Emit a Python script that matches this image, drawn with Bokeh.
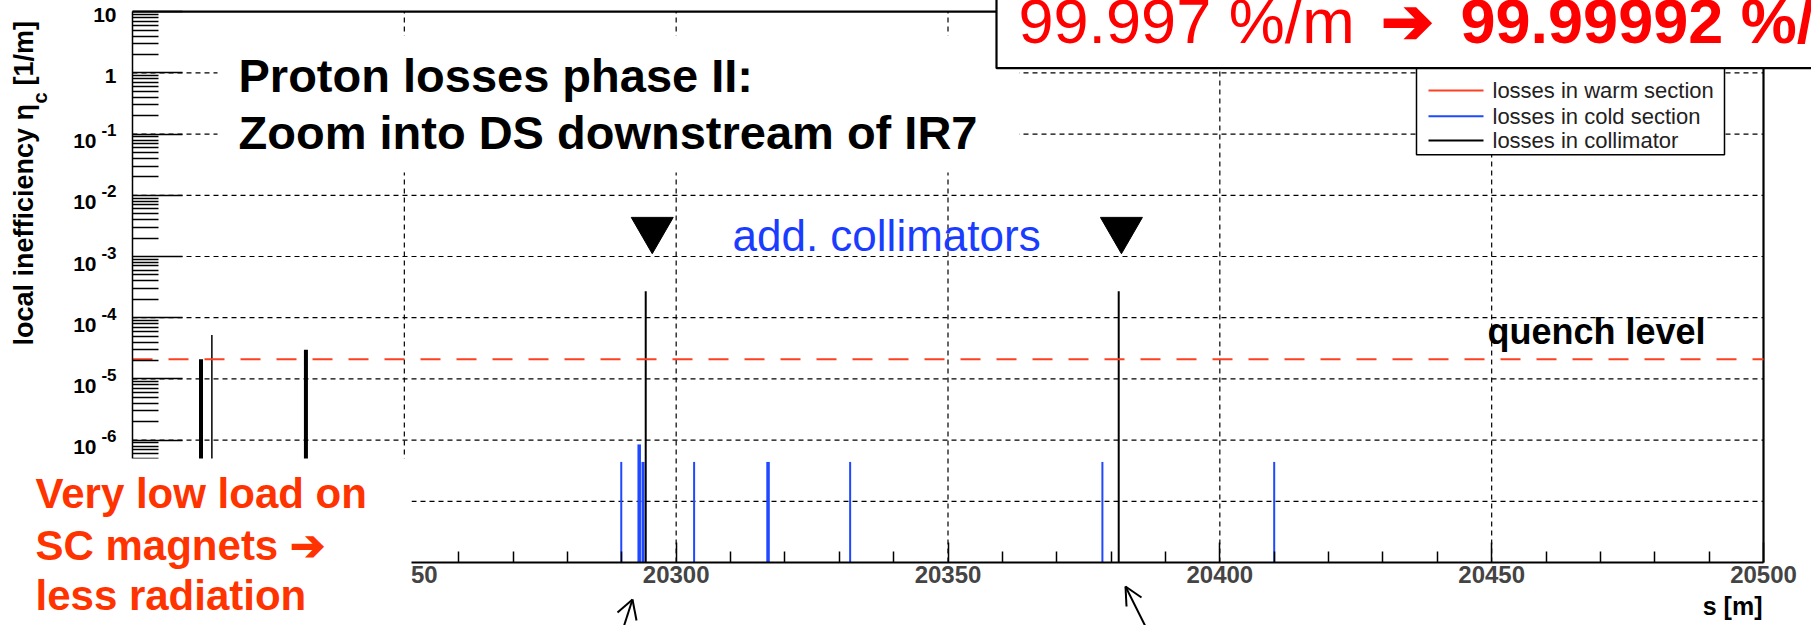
import math
from bokeh.plotting import figure
from bokeh.models import Range1d, FixedTicker
from bokeh.core.properties import value
from bokeh.embed import file_html
from bokeh.resources import INLINE

# ---------------- data ----------------
cold_s = [20289.9, 20293.2, 20293.9, 20303.3, 20316.9, 20332.0, 20378.4, 20410.0]
cold_eta = [4.4e-7, 8.5e-7, 4.4e-7, 4.4e-7, 4.4e-7, 4.4e-7, 4.4e-7, 4.4e-7]
coll_s = [20212.6, 20214.6, 20231.9, 20294.4, 20381.4]
coll_eta = [2.1e-5, 5.2e-5, 3.0e-5, 2.7e-4, 2.7e-4]
warm_s = []
warm_eta = []
quench_level = 2.1e-5
added_coll_s = [20295.6, 20381.9]

x_major = [20200, 20250, 20300, 20350, 20400, 20450, 20500]
x_minor = [v for v in range(20210, 20500, 10) if v % 50 != 0]
y_exp = [-8, -7, -6, -5, -4, -3, -2, -1, 0, 1]
y_major = [10.0 ** e for e in y_exp]
y_minor = [k * 10.0 ** e for e in y_exp[:-1] for k in range(2, 10)]
x_grid = x_major[1:-1]
y_grid = y_major[1:-1]

legend_labels = ["losses in warm section", "losses in cold section", "losses in collimator"]

# ---------------- styles ----------------
COLD = "#1f48ff"
WARM = "#ff4020"
COLL = "black"
legend_colors = [WARM, COLD, COLL]
cold_lw = [2, 3.5, 3, 2, 3.5, 2, 2, 2]
coll_lw = [4, 1.5, 4, 2, 2]
FONT = "Liberation Sans"
MID = 0.3465   # distance baseline -> middle of the text box, in em

# ---------------- layout (pixel geometry of the page) ----------------
W, H = 1811, 625
X0_PX, X1_PX = 132.0, 1763.0      # s = 20200 / 20500
YB_PX, DEC_PX = 562.0, 61.2       # eta = 1e-8, pixels per decade
S0, S1 = 20200.0, 20500.0


def sx(px):
    return S0 + (px - X0_PX) * (S1 - S0) / (X1_PX - X0_PX)


def sy(py):
    return 10 ** (-8 - (py - YB_PX) / DEC_PX)


p = figure(width=W, height=H, output_backend="svg", toolbar_location=None,
           y_axis_type="log",
           x_range=Range1d(sx(0), sx(W)),
           y_range=Range1d(sy(H), sy(0)))
p.min_border = 0
p.outline_line_color = None
p.background_fill_color = "white"
p.border_fill_color = "white"
p.grid.visible = False

# axes, placed at the plot-area edges
xa = p.xaxis[0]
xa.fixed_location = 1e-8
xa.bounds = (S0, S1)
xa.ticker = FixedTicker(ticks=x_major, minor_ticks=x_minor)
xa.axis_line_width = 2
xa.major_tick_in, xa.major_tick_out = 20, 0
xa.minor_tick_in, xa.minor_tick_out = 11, 0
xa.major_tick_line_width = 1.5
xa.minor_tick_line_width = 1.5
xa.major_label_text_font = FONT
xa.major_label_text_font_style = "bold"
xa.major_label_text_font_size = "24px"
xa.major_label_standoff = 3

ya = p.yaxis[0]
ya.fixed_location = S0
ya.bounds = (1e-8, 10)
ya.ticker = FixedTicker(ticks=y_major, minor_ticks=y_minor)
ya.axis_line_width = 1.5
ya.major_tick_in, ya.major_tick_out = 50, 0
ya.minor_tick_in, ya.minor_tick_out = 26, 0
ya.major_tick_line_width = 1.5
ya.minor_tick_line_width = 1.5
ya.major_label_overrides = {v: "" for v in y_major}

# grid lines (ROOT style dashed)
p.segment(x0=[S0] * len(y_grid), x1=[S1] * len(y_grid), y0=y_grid, y1=y_grid,
          line_color="black", line_width=1.2, line_dash="5 4", level="underlay")
p.segment(x0=x_grid, x1=x_grid, y0=[1e-8] * len(x_grid), y1=[10] * len(x_grid),
          line_color="black", line_width=1.2, line_dash="5 4", level="underlay")
# frame top / right
p.segment(x0=[S0, S1], x1=[S1, S1], y0=[10, 1e-8], y1=[10, 10],
          line_color="black", line_width=2.2, level="underlay")

# data
p.segment(x0=warm_s, x1=warm_s, y0=[1e-8] * len(warm_s), y1=warm_eta,
          line_color=WARM, line_width=2)
p.segment(x0=cold_s, x1=cold_s, y0=[1e-8] * len(cold_s), y1=cold_eta,
          line_color=COLD, line_width=cold_lw)
p.segment(x0=coll_s, x1=coll_s, y0=[1e-8] * len(coll_s), y1=coll_eta,
          line_color=COLL, line_width=coll_lw)

# quench level
p.segment(x0=[S0], x1=[S1], y0=[quench_level], y1=[quench_level],
          line_color=WARM, line_width=2, line_dash="20 16")


def T(px, base, txt, size, color="black", bold=False, align="left",
      rotated=False, level="overlay"):
    """Text whose alphabetic baseline lies at pixel row `base` (or column if rotated)."""
    if rotated:
        x, y, ang = sx(base - MID * size), sy(px), math.pi / 2
    else:
        x, y, ang = sx(px), sy(base - MID * size), 0.0
    p.text(x=[x], y=[y], text=[txt], text_font=value(FONT),
           text_font_size=f"{size}px", text_font_style="bold" if bold else "normal",
           text_color=color, text_align=align, text_baseline="middle",
           angle=ang, level=level)


# y tick labels 10^n (ROOT style)
neg = [e for e in y_exp if e < 0]
p.text(x=[S0] * len(neg), y=[10.0 ** e for e in neg], text=["10"] * len(neg),
       x_offset=-36, y_offset=7, text_align="right", text_baseline="middle",
       text_font=value(FONT), text_font_size="21px", text_font_style="bold",
       level="guide")
p.text(x=[S0] * len(neg), y=[10.0 ** e for e in neg], text=[str(e) for e in neg],
       x_offset=-16, y_offset=-4, text_align="right", text_baseline="middle",
       text_font=value(FONT), text_font_size="17px", text_font_style="bold",
       level="guide")
p.text(x=[S0, S0], y=[1.0, 10.0], text=["1", "10"],
       x_offset=-16, y_offset=3, text_align="right", text_baseline="middle",
       text_font=value(FONT), text_font_size="21px", text_font_style="bold",
       level="guide")

# axis titles (rotated y title: px = start row, base = baseline column)
T(345, 33, "local inefficiency \u03b7", 27, bold=True, rotated=True, level="guide")
T(103, 46, "c", 20, bold=True, rotated=True, level="guide")
T(85, 33, "[1/m]", 27, bold=True, rotated=True, level="guide")
T(1762, 614, "s [m]", 25, bold=True, align="right", level="guide")

# markers for the additional collimators
p.scatter(x=added_coll_s, y=[sy(229)] * len(added_coll_s), marker="inverted_triangle",
          size=42, color="black")
T(732, 250, "add. collimators", 44, color="#1a3cff", level="glyph")
T(1487, 343, "quench level", 36, bold=True, level="glyph")

# title box (white background of the title)
p.quad(left=[sx(217)], right=[sx(1019)], top=[sy(35)], bottom=[sy(172)],
       fill_color="white", line_color=None, level="annotation")
T(238, 91.7, "Proton losses phase II:", 47, bold=True)
T(238, 148.3, "Zoom into DS downstream of IR7", 47, bold=True)

# legend (box partly hidden under the top-right box)
rows = [90, 115.7, 140]
p.quad(left=[sx(1416)], right=[sx(1724)], top=[sy(55)], bottom=[sy(154.3)],
       fill_color="white", line_color="black", line_width=1.5, level="annotation")
p.segment(x0=[sx(1428)] * 3, x1=[sx(1483)] * 3, y0=[sy(r) for r in rows],
          y1=[sy(r) for r in rows], line_color=legend_colors, line_width=2,
          level="annotation")
p.text(x=[sx(1492)] * 3, y=[sy(r) for r in rows], text=legend_labels,
       text_font=value(FONT), text_font_size="22px", text_color="#222222",
       text_baseline="middle", level="annotation")

# top-right box with efficiency statement (drawn above title box and legend)
p.quad(left=[sx(996)], right=[sx(1950)], top=[sy(-40)], bottom=[sy(67.7)],
       fill_color="white", line_color="black", line_width=2.2, level="annotation")
T(1018, 42, "99.997 %/m", 63, color="#ff0000")
T(1380, 42, "\u2794", 63, color="#ff0000", bold=True)
T(1460, 42, "99.99992 %/m", 63, color="#ff0000", bold=True)

# bottom-left box with comment
p.quad(left=[sx(-20)], right=[sx(411)], top=[sy(458)], bottom=[sy(700)],
       fill_color="white", line_color=None, level="annotation")
RED2 = "#ff3300"
T(35, 508, "Very low load on", 42, color=RED2, bold=True)
T(35, 560, "SC magnets \u2794", 42, color=RED2, bold=True)
T(35, 610, "less radiation", 42, color=RED2, bold=True)

# hand-drawn pointer arrows below the axis
arrow_px = [(632, 599, 622, 630), (632, 599, 617, 612), (632, 599, 636, 620),
            (1125, 586, 1147, 630), (1125, 586, 1141, 597), (1125, 586, 1126, 606)]
p.segment(x0=[sx(a[0]) for a in arrow_px], y0=[sy(a[1]) for a in arrow_px],
          x1=[sx(a[2]) for a in arrow_px], y1=[sy(a[3]) for a in arrow_px],
          line_color="black", line_width=2, level="overlay")

open("out.html", "w").write(file_html(p, INLINE))
